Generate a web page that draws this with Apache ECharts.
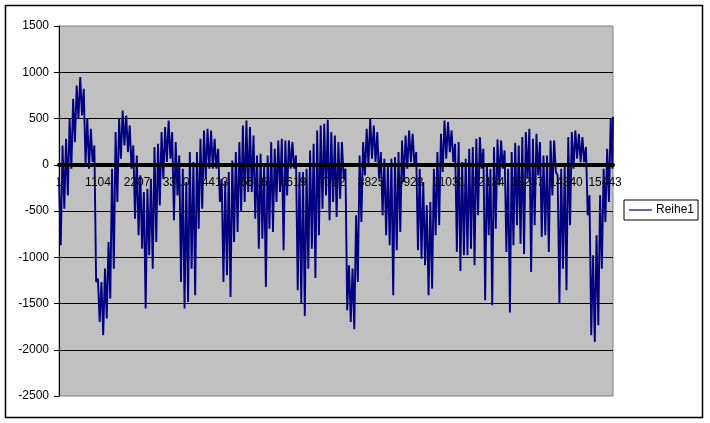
<!DOCTYPE html>
<html>
<head>
<meta charset="utf-8">
<script src="https://cdn.jsdelivr.net/npm/echarts@6/dist/echarts.min.js"></script>
<style>
html,body{margin:0;padding:0;background:#fff;}
#chart{width:710px;height:423px;}
</style>
</head>
<body>
<div id="chart"></div>
<script>
// Sample index (category number) of each plotted point
const pointIdx = [
1,51,101,151,201,251,301,351,401,451,501,551,601,651,701,751,801,851,901,951,
1001,1051,1101,1151,1201,1251,1301,1351,1401,1451,1501,1551,1601,1651,1701,1751,1801,1851,1901,1951,
2001,2051,2101,2151,2201,2251,2301,2351,2401,2451,2501,2551,2601,2651,2701,2751,2801,2851,2901,2951,
3001,3051,3101,3151,3201,3251,3301,3351,3401,3451,3501,3551,3601,3651,3701,3751,3801,3851,3901,3951,
4001,4051,4101,4151,4201,4251,4301,4351,4401,4451,4501,4551,4601,4651,4701,4751,4801,4851,4901,4951,
5001,5051,5101,5151,5201,5251,5301,5351,5401,5451,5501,5551,5601,5651,5701,5751,5801,5851,5901,5951,
6001,6051,6101,6151,6201,6251,6301,6351,6401,6451,6501,6551,6601,6651,6701,6751,6801,6851,6901,6951,
7001,7051,7101,7151,7201,7251,7301,7351,7401,7451,7501,7551,7601,7651,7701,7751,7801,7851,7901,7951,
8001,8051,8101,8151,8201,8251,8301,8351,8401,8451,8501,8551,8601,8651,8701,8751,8801,8851,8901,8951,
9001,9051,9101,9151,9201,9251,9301,9351,9401,9451,9501,9551,9601,9651,9701,9751,9801,9851,9901,9951,
10001,10051,10101,10151,10201,10251,10301,10351,10401,10451,10501,10551,10601,10651,10701,10751,10801,10851,10901,10951,
11001,11051,11101,11151,11201,11251,11301,11351,11401,11451,11501,11551,11601,11651,11701,11751,11801,11851,11901,11951,
12001,12051,12101,12151,12201,12251,12301,12351,12401,12451,12501,12551,12601,12651,12701,12751,12801,12851,12901,12951,
13001,13051,13101,13151,13201,13251,13301,13351,13401,13451,13501,13551,13601,13651,13701,13751,13801,13851,13901,13951,
14001,14051,14101,14151,14201,14251,14301,14351,14401,14451,14501,14551,14601,14651,14701,14751,14801,14851,14901,14951,
15001,15051,15101,15151,15201,15251,15301,15351,15401,15451,15501,15551,15601,15651,15666
];

// Reihe1 values (alternating local highs and lows)
const reihe1 = [
-151,-871, 209,-475, 281,-331, 497,-43, 713,245, 857,497, 947,533, 821,11, 497,-43, 389,29,
209,-1267, -1231,-1699, -1267,-1843, -1123,-1663, -835,-1447, -43,-1123, 353,-403, 497,65, 587,209, 533,137,
425,-43, 209,-583, 101,-763, -115,-907, -295,-1555, -259,-979, -151,-1123, 191,-835, 227,-439, 353,-151,
407,29, 479,65, 353,-601, 245,-331, 101,-1267, -43,-1555, -187,-1483, 137,-1123, 29,-1411, 137,-691,
281,-475, 371,-151, 389,-43, 371,-43, 281,-43, 173,-403, -151,-1267, -187,-1195, -79,-1429, 47,-835,
137,-727, 245,-511, 425,-403, 479,-295, 407,-295, 317,-583, 101,-907, 119,-799, -7,-1321, 101,-691,
245,-727, 173,-403, 263,-295, 281,-925, 263,-331, 263,-43, 245,-43, 101,-1357, -79,-1501, -79,-1634,
-43,-1123, 155,-907, 227,-1224, 371,-763, 425,-475, 443,-331, 486,-601, 353,-403, 317,-565, 245,-367,
245,-151, -43,-1573, -1087,-1699, -1123,-1778, -547,-1267, 101,-619, 245,-115, 389,-7, 497,65, 425,29,
353,-151, 137,-547, 65,-763, -7,-871, 65,-1411, 83,-925, 137,-727, 263,-187, 317,-43, 371,29,
335,-7, 137,-925, -43,-1015, -187,-1087, -439,-1411, -403,-1339, -43,-763, 137,-655, 335,-79, 479,65,
461,137, 371,29, 227,-943, 245,-1148, 29,-979, 65,-979, 173,-907, 191,-1087, 281,-547, 299,-43,
173,-1465, -7,-763, -43,-1519, 191,-691, 274,-223, 263,-43, 155,-943, -43,-1598, 137,-871, 238,-655,
209,-853, 299,-965, 353,-151, 389,-1159, 281,-655, 335,-115, 245,-781, 101,-763, 101,-943, 263,-331,
263,-79, -115,-1501, -43,-1123, -7,-1357, 299,-655, 353,-43, 371,65, 335,29, 299,29, 191,-547,
-331,-1843, -979,-1915, -763,-1735, -331,-1123, -43,-619, 173,-403, 497,-43, 520
];

const xTickLabels = ['1','1104','2207','3310','4413','5516','6619','7722','8825','9928','11031','12134','13237','14340','15443'];
const xTickStep = 1103;
const lastIdx = 15666;
const yMin = -2500, yMax = 1500, yStep = 500;
const seriesName = 'Reihe1';

const data = pointIdx.map((ix, i) => [ix - 1, reihe1[i]]);

const gridTop = 26, gridBottom = 27, chartH = 423;
const plotH = chartH - gridTop - gridBottom;
const zeroFromBottom = plotH * (0 - yMin) / (yMax - yMin);

const chart = echarts.init(document.getElementById('chart'), null, {renderer: 'canvas'});
const font = 'Liberation Sans, Arial, sans-serif';
chart.setOption({
  animation: false,
  backgroundColor: '#ffffff',
  graphic: [{
    type: 'rect', silent: true, z: 100,
    shape: {x: 5.5, y: 5.5, width: 697, height: 412},
    style: {fill: 'none', stroke: '#000', lineWidth: 1.5}
  }],
  grid: {
    left: 59, right: 97, top: gridTop, bottom: gridBottom,
    show: true, backgroundColor: '#c0c0c0', borderColor: '#808080', borderWidth: 1
  },
  legend: {
    data: [seriesName],
    left: 624, top: 200,
    orient: 'vertical',
    padding: [4, 4, 4, 5],
    borderColor: '#000', borderWidth: 1, backgroundColor: '#fff',
    icon: 'rect',
    itemWidth: 23, itemHeight: 1.2, itemGap: 0,
    textStyle: {fontFamily: font, fontSize: 12, color: '#000', padding: [0, 0, 0, -1]}
  },
  xAxis: {
    type: 'value',
    min: 0, max: lastIdx - 1, interval: xTickStep,
    z: 3,
    position: 'bottom',
    offset: -zeroFromBottom,
    axisLine: {onZero: false, lineStyle: {color: '#000', width: 4}},
    axisTick: {show: false},
    splitLine: {show: false},
    axisLabel: {
      showMaxLabel: false,
      margin: 12,
      color: '#000', fontFamily: font, fontSize: 12,
      formatter: v => (v % xTickStep === 0 ? (xTickLabels[v / xTickStep] || '') : '')
    }
  },
  yAxis: {
    type: 'value',
    min: yMin, max: yMax, interval: yStep,
    axisLine: {show: true, onZero: false, lineStyle: {color: '#000', width: 1}},
    axisTick: {show: true, length: 5, lineStyle: {color: '#000'}},
    splitLine: {show: true, showMinLine: false, showMaxLine: false, lineStyle: {color: '#000', width: 1}},
    axisLabel: {margin: 10, color: '#000', fontFamily: font, fontSize: 12, formatter: v => String(v)}
  },
  series: [{
    name: seriesName,
    type: 'line',
    data: data,
    symbol: 'none',
    showSymbol: false,
    sampling: null,
    lineStyle: {color: '#000080', width: 1.9, join: 'bevel'},
    itemStyle: {color: '#000080'},
    z: 2
  }]
});
</script>
</body>
</html>
